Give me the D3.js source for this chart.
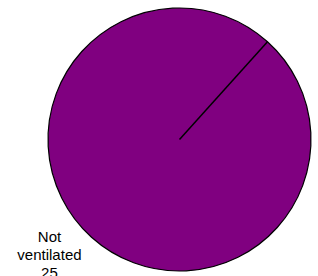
<!DOCTYPE html>
<html>
<head>
<meta charset="utf-8">
<script src="https://cdn.jsdelivr.net/npm/d3@7"></script>
<style>
  body { margin: 0; background: #fff; }
  svg { display: block; }
</style>
</head>
<body>
<div id="pie"></div>
<script>
var svgWidth = 318;
var svgHeight = 276;

// data
var categories = ["Not ventilated"];
var values = [25];
var colors = ["#800080"];
var firstSliceAngle = 42; // degrees, clockwise from 12 o'clock

var cx = 179.5;
var cy = 139.5;
var radius = 131.5;

var svg = d3.select("#pie")
  .append("svg")
  .attr("width", svgWidth)
  .attr("height", svgHeight);

var chartGroup = svg.append("g")
  .attr("transform", `translate(${cx}, ${cy})`);

var data = categories.map(function(c, i) {
  return { name: c, value: values[i], color: colors[i] };
});

var startA = firstSliceAngle * Math.PI / 180;

var pie = d3.pie()
  .sort(null)
  .value(d => d.value)
  .startAngle(startA)
  .endAngle(startA + 2 * Math.PI);

var arcs = pie(data);

var arc = d3.arc()
  .innerRadius(0)
  .outerRadius(radius);

chartGroup.selectAll("path.slice")
  .data(arcs)
  .enter()
  .append("path")
  .attr("class", "slice")
  .attr("d", arc)
  .attr("fill", d => d.data.color)
  .attr("stroke", "#000")
  .attr("stroke-width", 1.2);

// slice boundaries (d3 draws a full circle without the radial edge)
chartGroup.selectAll("line.edge")
  .data(arcs)
  .enter()
  .append("line")
  .attr("class", "edge")
  .attr("x1", 0)
  .attr("y1", 0)
  .attr("x2", d => radius * Math.sin(d.startAngle))
  .attr("y2", d => -radius * Math.cos(d.startAngle))
  .attr("stroke", "#000")
  .attr("stroke-width", 1.5);

// labels outside the pie
var labelArc = d3.arc()
  .innerRadius(radius + 18)
  .outerRadius(radius + 18);

var labels = chartGroup.selectAll("text.label")
  .data(arcs)
  .enter()
  .append("text")
  .attr("class", "label")
  .attr("transform", function(d) {
    var p = labelArc.centroid(d);
    return `translate(${p[0] - 30}, ${p[1] - 9})`;
  })
  .attr("text-anchor", "middle")
  .attr("font-family", "Liberation Sans, Arial, sans-serif")
  .attr("font-size", "15px")
  .attr("fill", "#000");

labels.append("tspan").attr("x", 0).attr("dy", 0).text(d => d.data.name.split(" ")[0]);
labels.append("tspan").attr("x", 0).attr("dy", 18).text(d => d.data.name.split(" ")[1]);
labels.append("tspan").attr("x", 0).attr("dy", 18).text(d => d.data.value);
</script>
</body>
</html>
